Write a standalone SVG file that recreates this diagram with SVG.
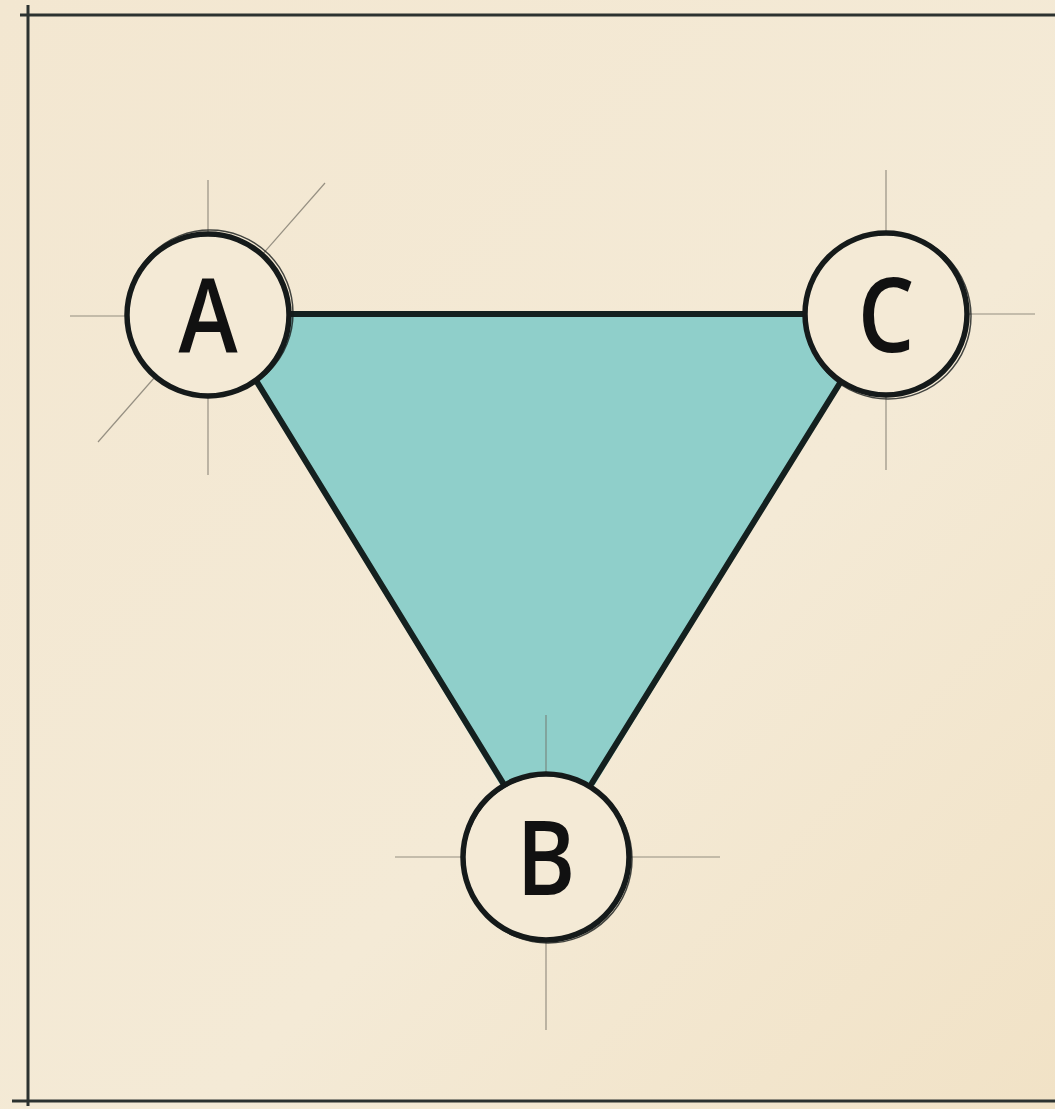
<svg xmlns="http://www.w3.org/2000/svg" width="1055" height="1109" viewBox="0 0 1055 1109">
<defs>
<linearGradient id="bg" x1="0" y1="0" x2="1" y2="1">
<stop offset="0" stop-color="#f3e7d1"/>
<stop offset="0.6" stop-color="#f4ead6"/>
<stop offset="1" stop-color="#f1e2c6"/>
</linearGradient>
<style>
.guide{stroke:#6e6a60;stroke-width:1.2;fill:none;opacity:0.7}
.edge{stroke:#14201f;stroke-width:6;stroke-linecap:round;fill:none}
.node circle{fill:#f4ead6;stroke:#151a1a;stroke-width:5.5}
.node .ring{fill:none;stroke:#151a1a;stroke-width:1.5;opacity:0.8}
.lbl{font-family:"Open Sans","DejaVu Sans",sans-serif;font-size:104px;font-weight:600;fill:#111;text-anchor:middle}
.frame{stroke:#2c3230;stroke-width:3;fill:none}
</style>
</defs>
<rect width="1055" height="1109" fill="url(#bg)"/>
<g id="frame">
<line class="frame" x1="20" y1="15" x2="1055" y2="15"/>
<line class="frame" x1="28" y1="5" x2="28" y2="1106"/>
<line class="frame" x1="12" y1="1101" x2="1055" y2="1101"/>
</g>
<g id="guides">
<line class="guide" x1="208" y1="180" x2="208" y2="475"/>
<line class="guide" x1="70" y1="316" x2="290" y2="316"/>
<line class="guide" x1="325" y1="183" x2="98" y2="442"/>
<line class="guide" x1="886" y1="170" x2="886" y2="470"/>
<line class="guide" x1="800" y1="314" x2="1035" y2="314"/>
<line class="guide" x1="546" y1="715" x2="546" y2="1030"/>
<line class="guide" x1="395" y1="857" x2="720" y2="857"/>
</g>
<polygon id="face" points="262,314 836,314 843,380 594,786 501,786 254,380" fill="#8fcfca"/>
<g id="connectors">
<line class="edge" x1="288" y1="314" x2="806" y2="314"/>
<line class="edge" x1="257" y1="382" x2="503" y2="783"/>
<line class="edge" x1="840" y1="383" x2="592" y2="783"/>
</g>
<g id="guides-inner">
<line class="guide" x1="546" y1="715" x2="546" y2="790"/>
</g>
<g id="node-A" class="node">
<circle cx="208" cy="315" r="81"/>
<circle class="ring" cx="210" cy="313" r="83"/>
<text class="lbl" transform="translate(208,353) scale(0.86,1)">A</text>
</g>
<g id="node-C" class="node">
<circle cx="886" cy="314" r="81"/>
<circle class="ring" cx="888" cy="316" r="83"/>
<text class="lbl" transform="translate(886,352) scale(0.86,1)">C</text>
</g>
<g id="node-B" class="node">
<circle cx="546" cy="857" r="83"/>
<circle class="ring" cx="548" cy="859" r="84"/>
<text class="lbl" transform="translate(546,895) scale(0.86,1)">B</text>
</g>
</svg>
